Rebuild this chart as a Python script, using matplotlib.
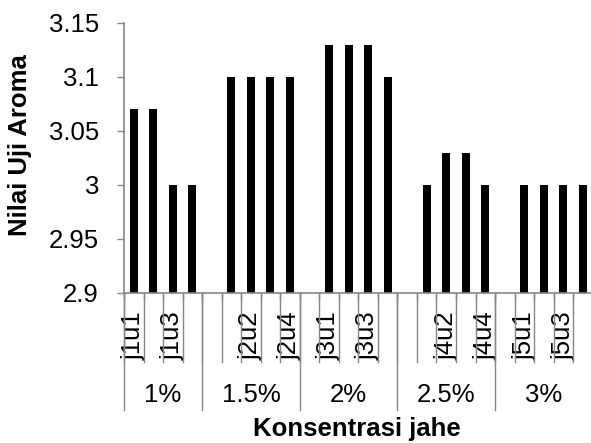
import matplotlib
matplotlib.use("Agg")
import matplotlib.pyplot as plt
from matplotlib.transforms import blended_transform_factory
import numpy as np

plt.rcParams['font.family'] = ['Liberation Sans', 'DejaVu Sans']

# ---- data ----
groups = ['1%', '1.5%', '2%', '2.5%', '3%']
group_sizes = [4, 5, 5, 5, 5]   # number of category slots per group (incl. blank slot)
categories = ['j1u1', 'j1u2', 'j1u3', 'j1u4',
              '', 'j2u1', 'j2u2', 'j2u3', 'j2u4',
              '', 'j3u1', 'j3u2', 'j3u3', 'j3u4',
              '', 'j4u1', 'j4u2', 'j4u3', 'j4u4',
              '', 'j5u1', 'j5u2', 'j5u3', 'j5u4']
values = [3.07, 3.07, 3.00, 3.00,
          np.nan, 3.10, 3.10, 3.10, 3.10,
          np.nan, 3.13, 3.13, 3.13, 3.10,
          np.nan, 3.00, 3.03, 3.03, 3.00,
          np.nan, 3.00, 3.00, 3.00, 3.00]
y_ticks = [2.9, 2.95, 3.0, 3.05, 3.1, 3.15]
y_ticklabels = ['2.9', '2.95', '3', '3.05', '3.1', '3.15']
label_step = 2

W, H = 591, 443
fig = plt.figure(figsize=(W / 100, H / 100), dpi=100)
left_px, right_px, top_px, bot_px = 124, 592.7, 23, 293
ax = fig.add_axes([left_px / W, 1 - bot_px / H, (right_px - left_px) / W, (bot_px - top_px) / H])

gray = '#868686'
fs = 18.5
x = np.arange(len(categories))
vals = np.array(values, dtype=float)
ax.bar(x, np.nan_to_num(vals - 2.9, nan=0.0), bottom=2.9, width=0.41, color='black')

ax.set_xlim(-0.5, len(categories) - 0.5)
ax.set_ylim(2.9, 3.15)
ax.set_yticks(y_ticks)
ax.set_yticklabels(y_ticklabels, fontsize=fs)
ax.tick_params(axis='y', direction='out', length=5, width=1, color=gray, pad=13)

for s in ['top', 'right']:
    ax.spines[s].set_visible(False)
for s in ['left', 'bottom']:
    ax.spines[s].set_color(gray)
    ax.spines[s].set_linewidth(1.2)

# category level tick labels
ax.set_xticks(x[::label_step])
ax.set_xticklabels(categories[::label_step], rotation=90, fontsize=fs, va='top')
ax.tick_params(axis='x', which='major', length=0, pad=13)
ax.set_xticks(np.arange(len(categories) + 1) - 0.5, minor=True)
ax.tick_params(axis='x', which='minor', length=5, width=1, color=gray, direction='out')

trans = blended_transform_factory(ax.transData, fig.transFigure)
# category separators
for b in np.arange(len(categories) + 1) - 0.5:
    ax.plot([b, b], [1 - bot_px / H, 1 - 362 / H], color=gray, lw=1, transform=trans, clip_on=False)
# group separators and labels
edges = np.concatenate([[0], np.cumsum(group_sizes)]) - 0.5
for e in edges:
    ax.plot([e, e], [1 - bot_px / H, 1 - 410 / H], color=gray, lw=1, transform=trans, clip_on=False)
for g, a, b in zip(groups, edges[:-1], edges[1:]):
    ax.text((a + b) / 2, 1 - 395 / H, g, transform=trans, ha='center', va='center', fontsize=fs)

fig.text(357 / W, 1 - 429 / H, 'Konsentrasi jahe', ha='center', va='center', fontsize=fs, fontweight='bold')
fig.text(20 / W, 1 - 145 / H, 'Nilai Uji Aroma', ha='center', va='center', rotation=90, fontsize=fs, fontweight='bold')

fig.savefig('out.png', dpi=100)
